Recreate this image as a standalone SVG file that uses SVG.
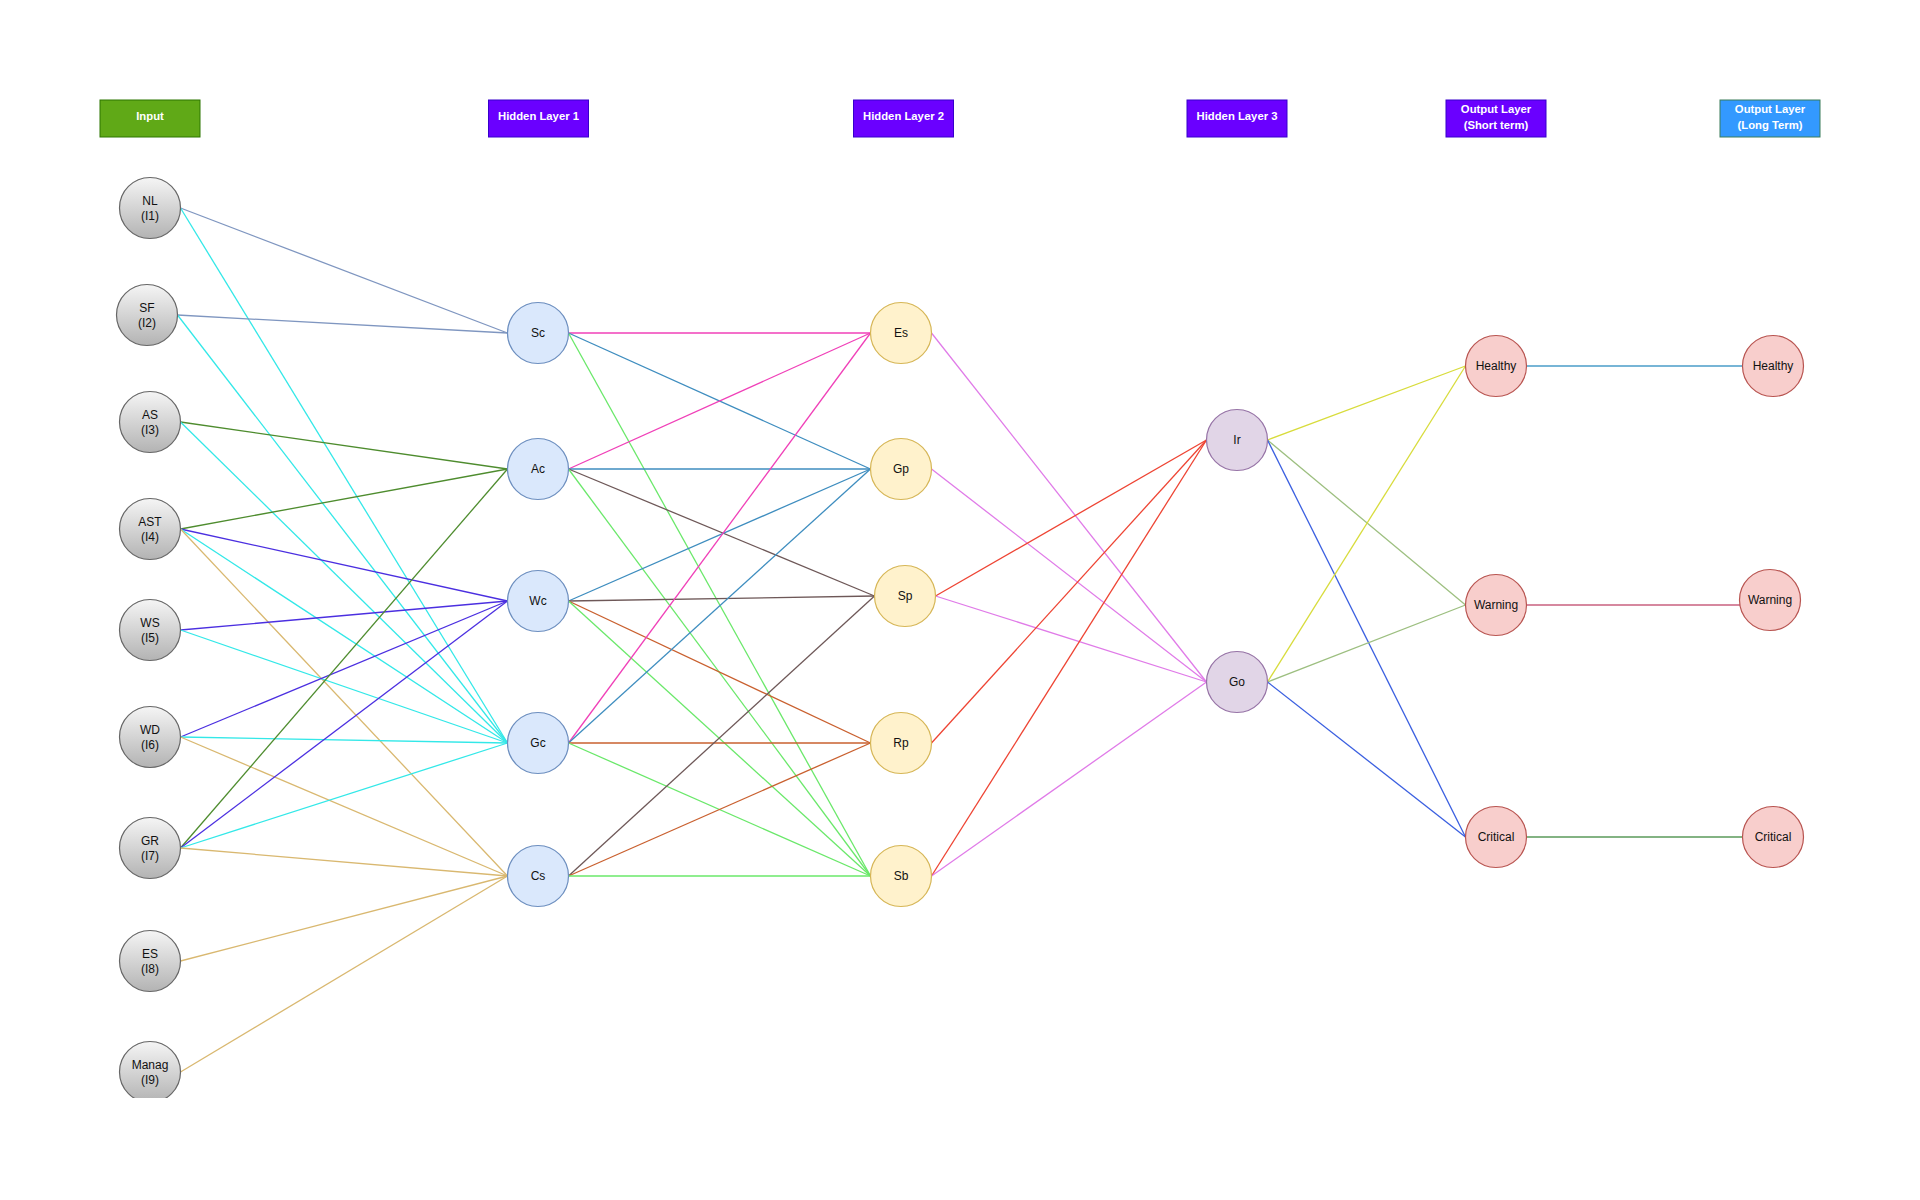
<svg xmlns="http://www.w3.org/2000/svg" width="1920" height="1200" viewBox="0 0 1920 1200">
<style>
  text { font-family: "Liberation Sans", Arial, sans-serif; font-size: 12px; text-anchor: middle; fill: #111111; }
  .hdr text { fill: #ffffff; font-weight: bold; font-size: 11.3px; }
  .in circle { fill: url(#gray); stroke: #666666; stroke-width: 1.2; }
  .h1 circle { fill: #dae8fc; stroke: #6c8ebf; stroke-width: 1.2; }
  .h2 circle { fill: #fff2cc; stroke: #d6b656; stroke-width: 1.2; }
  .h3 circle { fill: #e1d5e7; stroke: #9673a6; stroke-width: 1.2; }
  .out circle { fill: #f8cecc; stroke: #b85450; stroke-width: 1.2; }
  #edges line { stroke-width: 1.3; fill: none; }
  .c-bg { stroke: #7f96c0; }
  .c-cy { stroke: #33e8e8; }
  .c-dg { stroke: #4e8c2e; }
  .c-pb { stroke: #4b2fe0; }
  .c-tan { stroke: #d9b870; }
  .c-pk { stroke: #f040b8; }
  .c-sb { stroke: #3e8dbf; }
  .c-gb { stroke: #6e5858; }
  .c-or { stroke: #c9602f; }
  .c-lg { stroke: #6ae86a; }
  .c-orc { stroke: #e07be8; }
  .c-red { stroke: #ee4433; }
  .c-yel { stroke: #d8dc3c; }
  .c-ol { stroke: #9dbf80; }
  .c-bl { stroke: #3a5fe0; }
  .c-hh { stroke: #4a9cc8; }
  .c-ww { stroke: #c9607f; }
  .c-cc { stroke: #5a9a5a; }
</style>
<defs>
  <linearGradient id="gray" x1="0" y1="0" x2="0" y2="1">
    <stop offset="0" stop-color="#f5f5f5"/>
    <stop offset="1" stop-color="#b3b3b3"/>
  </linearGradient>
  <clipPath id="bottomclip"><rect x="0" y="0" width="1920" height="1098"/></clipPath>
</defs>
<rect x="0" y="0" width="1920" height="1200" fill="#ffffff"/>

<g id="edges">
  <!-- Input -> Hidden 1 -->
  <line class="c-bg" x1="180.5" y1="208" x2="507.5" y2="333"/>
  <line class="c-cy" x1="180.5" y1="208" x2="507.5" y2="743"/>
  <line class="c-bg" x1="177.5" y1="315" x2="507.5" y2="333"/>
  <line class="c-cy" x1="177.5" y1="315" x2="507.5" y2="743"/>
  <line class="c-dg" x1="180.5" y1="422" x2="507.5" y2="469"/>
  <line class="c-cy" x1="180.5" y1="422" x2="507.5" y2="743"/>
  <line class="c-dg" x1="180.5" y1="529" x2="507.5" y2="469"/>
  <line class="c-pb" x1="180.5" y1="529" x2="507.5" y2="601"/>
  <line class="c-cy" x1="180.5" y1="529" x2="507.5" y2="743"/>
  <line class="c-tan" x1="180.5" y1="529" x2="507.5" y2="876"/>
  <line class="c-pb" x1="180.5" y1="630" x2="507.5" y2="601"/>
  <line class="c-cy" x1="180.5" y1="630" x2="507.5" y2="743"/>
  <line class="c-pb" x1="180.5" y1="737" x2="507.5" y2="601"/>
  <line class="c-cy" x1="180.5" y1="737" x2="507.5" y2="743"/>
  <line class="c-tan" x1="180.5" y1="737" x2="507.5" y2="876"/>
  <line class="c-dg" x1="180.5" y1="848" x2="507.5" y2="469"/>
  <line class="c-pb" x1="180.5" y1="848" x2="507.5" y2="601"/>
  <line class="c-cy" x1="180.5" y1="848" x2="507.5" y2="743"/>
  <line class="c-tan" x1="180.5" y1="848" x2="507.5" y2="876"/>
  <line class="c-tan" x1="180.5" y1="961" x2="507.5" y2="876"/>
  <line class="c-tan" x1="180.5" y1="1072" x2="507.5" y2="876"/>
  <!-- Hidden 1 -> Hidden 2 -->
  <line class="c-pk" x1="568.5" y1="333" x2="870.5" y2="333"/>
  <line class="c-sb" x1="568.5" y1="333" x2="870.5" y2="469"/>
  <line class="c-lg" x1="568.5" y1="333" x2="870.5" y2="876"/>
  <line class="c-pk" x1="568.5" y1="469" x2="870.5" y2="333"/>
  <line class="c-sb" x1="568.5" y1="469" x2="870.5" y2="469"/>
  <line class="c-gb" x1="568.5" y1="469" x2="874.5" y2="596"/>
  <line class="c-lg" x1="568.5" y1="469" x2="870.5" y2="876"/>
  <line class="c-sb" x1="568.5" y1="601" x2="870.5" y2="469"/>
  <line class="c-gb" x1="568.5" y1="601" x2="874.5" y2="596"/>
  <line class="c-or" x1="568.5" y1="601" x2="870.5" y2="743"/>
  <line class="c-lg" x1="568.5" y1="601" x2="870.5" y2="876"/>
  <line class="c-pk" x1="568.5" y1="743" x2="870.5" y2="333"/>
  <line class="c-sb" x1="568.5" y1="743" x2="870.5" y2="469"/>
  <line class="c-or" x1="568.5" y1="743" x2="870.5" y2="743"/>
  <line class="c-lg" x1="568.5" y1="743" x2="870.5" y2="876"/>
  <line class="c-gb" x1="568.5" y1="876" x2="874.5" y2="596"/>
  <line class="c-or" x1="568.5" y1="876" x2="870.5" y2="743"/>
  <line class="c-lg" x1="568.5" y1="876" x2="870.5" y2="876"/>
  <!-- Hidden 2 -> Hidden 3 -->
  <line class="c-orc" x1="931.5" y1="333" x2="1206.5" y2="682"/>
  <line class="c-orc" x1="931.5" y1="469" x2="1206.5" y2="682"/>
  <line class="c-red" x1="935.5" y1="596" x2="1206.5" y2="440"/>
  <line class="c-orc" x1="935.5" y1="596" x2="1206.5" y2="682"/>
  <line class="c-red" x1="931.5" y1="743" x2="1206.5" y2="440"/>
  <line class="c-red" x1="931.5" y1="876" x2="1206.5" y2="440"/>
  <line class="c-orc" x1="931.5" y1="876" x2="1206.5" y2="682"/>
  <!-- Hidden 3 -> Output short -->
  <line class="c-yel" x1="1267.5" y1="440" x2="1465.5" y2="366"/>
  <line class="c-ol" x1="1267.5" y1="440" x2="1465.5" y2="605"/>
  <line class="c-bl" x1="1267.5" y1="440" x2="1465.5" y2="837"/>
  <line class="c-yel" x1="1267.5" y1="682" x2="1465.5" y2="366"/>
  <line class="c-ol" x1="1267.5" y1="682" x2="1465.5" y2="605"/>
  <line class="c-bl" x1="1267.5" y1="682" x2="1465.5" y2="837"/>
  <!-- Output short -> Output long -->
  <line class="c-hh" x1="1526.5" y1="366" x2="1742.5" y2="366"/>
  <line class="c-ww" x1="1526.5" y1="605" x2="1740" y2="605"/>
  <line class="c-cc" x1="1526.5" y1="837" x2="1742.5" y2="837"/>
</g>

<!-- Headers -->
<g id="hdr-input" class="hdr">
  <rect x="100" y="100" width="100" height="37" fill="#60a917" stroke="#2d7600"/>
  <text x="150" y="120">Input</text>
</g>
<g id="hdr-h1" class="hdr">
  <rect x="488.5" y="100" width="100" height="37" fill="#6a00ff" stroke="#3700cc"/>
  <text x="538.5" y="120">Hidden Layer 1</text>
</g>
<g id="hdr-h2" class="hdr">
  <rect x="853.5" y="100" width="100" height="37" fill="#6a00ff" stroke="#3700cc"/>
  <text x="903.5" y="120">Hidden Layer 2</text>
</g>
<g id="hdr-h3" class="hdr">
  <rect x="1187" y="100" width="100" height="37" fill="#6a00ff" stroke="#3700cc"/>
  <text x="1237" y="120">Hidden Layer 3</text>
</g>
<g id="hdr-out-short" class="hdr">
  <rect x="1446" y="100" width="100" height="37" fill="#6a00ff" stroke="#3700cc"/>
  <text x="1496" y="113">Output Layer</text>
  <text x="1496" y="128.5">(Short term)</text>
</g>
<g id="hdr-out-long" class="hdr">
  <rect x="1720" y="100" width="100" height="37" fill="#3399ff" stroke="#3a7d5a"/>
  <text x="1770" y="113">Output Layer</text>
  <text x="1770" y="128.5">(Long Term)</text>
</g>

<!-- Input nodes -->
<g id="n-NL" class="in"><circle cx="150" cy="208" r="30.5"/><text x="150" y="204.5">NL</text><text x="150" y="220">(I1)</text></g>
<g id="n-SF" class="in"><circle cx="147" cy="315" r="30.5"/><text x="147" y="311.5">SF</text><text x="147" y="327">(I2)</text></g>
<g id="n-AS" class="in"><circle cx="150" cy="422" r="30.5"/><text x="150" y="418.5">AS</text><text x="150" y="434">(I3)</text></g>
<g id="n-AST" class="in"><circle cx="150" cy="529" r="30.5"/><text x="150" y="525.5">AST</text><text x="150" y="541">(I4)</text></g>
<g id="n-WS" class="in"><circle cx="150" cy="630" r="30.5"/><text x="150" y="626.5">WS</text><text x="150" y="642">(I5)</text></g>
<g id="n-WD" class="in"><circle cx="150" cy="737" r="30.5"/><text x="150" y="733.5">WD</text><text x="150" y="749">(I6)</text></g>
<g id="n-GR" class="in"><circle cx="150" cy="848" r="30.5"/><text x="150" y="844.5">GR</text><text x="150" y="860">(I7)</text></g>
<g id="n-ES" class="in"><circle cx="150" cy="961" r="30.5"/><text x="150" y="957.5">ES</text><text x="150" y="973">(I8)</text></g>
<g id="n-Manag" class="in" clip-path="url(#bottomclip)"><circle cx="150" cy="1072" r="30.5"/><text x="150" y="1068.5">Manag</text><text x="150" y="1084">(I9)</text></g>

<!-- Hidden layer 1 -->
<g id="n-Sc" class="h1"><circle cx="538" cy="333" r="30.5"/><text x="538" y="337.3">Sc</text></g>
<g id="n-Ac" class="h1"><circle cx="538" cy="469" r="30.5"/><text x="538" y="473.3">Ac</text></g>
<g id="n-Wc" class="h1"><circle cx="538" cy="601" r="30.5"/><text x="538" y="605.3">Wc</text></g>
<g id="n-Gc" class="h1"><circle cx="538" cy="743" r="30.5"/><text x="538" y="747.3">Gc</text></g>
<g id="n-Cs" class="h1"><circle cx="538" cy="876" r="30.5"/><text x="538" y="880.3">Cs</text></g>

<!-- Hidden layer 2 -->
<g id="n-Es" class="h2"><circle cx="901" cy="333" r="30.5"/><text x="901" y="337.3">Es</text></g>
<g id="n-Gp" class="h2"><circle cx="901" cy="469" r="30.5"/><text x="901" y="473.3">Gp</text></g>
<g id="n-Sp" class="h2"><circle cx="905" cy="596" r="30.5"/><text x="905" y="600.3">Sp</text></g>
<g id="n-Rp" class="h2"><circle cx="901" cy="743" r="30.5"/><text x="901" y="747.3">Rp</text></g>
<g id="n-Sb" class="h2"><circle cx="901" cy="876" r="30.5"/><text x="901" y="880.3">Sb</text></g>

<!-- Hidden layer 3 -->
<g id="n-Ir" class="h3"><circle cx="1237" cy="440" r="30.5"/><text x="1237" y="444.3">Ir</text></g>
<g id="n-Go" class="h3"><circle cx="1237" cy="682" r="30.5"/><text x="1237" y="686.3">Go</text></g>

<!-- Output short term -->
<g id="n-Healthy-s" class="out"><circle cx="1496" cy="366" r="30.5"/><text x="1496" y="370.3">Healthy</text></g>
<g id="n-Warning-s" class="out"><circle cx="1496" cy="605" r="30.5"/><text x="1496" y="609.3">Warning</text></g>
<g id="n-Critical-s" class="out"><circle cx="1496" cy="837" r="30.5"/><text x="1496" y="841.3">Critical</text></g>

<!-- Output long term -->
<g id="n-Healthy-l" class="out"><circle cx="1773" cy="366" r="30.5"/><text x="1773" y="370.3">Healthy</text></g>
<g id="n-Warning-l" class="out"><circle cx="1770" cy="600" r="30.5"/><text x="1770" y="604.3">Warning</text></g>
<g id="n-Critical-l" class="out"><circle cx="1773" cy="837" r="30.5"/><text x="1773" y="841.3">Critical</text></g>
</svg>
